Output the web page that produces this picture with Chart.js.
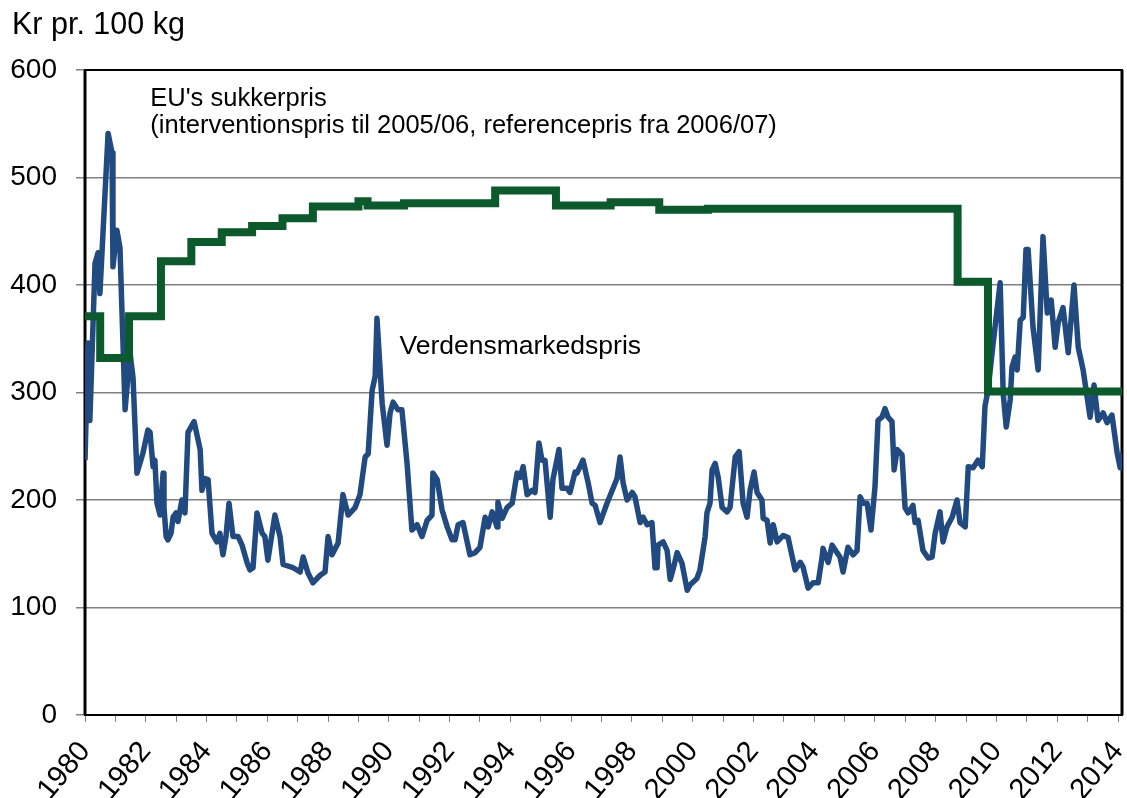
<!DOCTYPE html>
<html>
<head>
<meta charset="utf-8">
<title>Sukkerpris</title>
<script src="https://cdn.jsdelivr.net/npm/chart.js@4.4.1/dist/chart.umd.min.js"></script>
<style>
    html, body { margin: 0; padding: 0; background: #fff; }
    #sugar-chart { display: block; }
</style>
</head>
<body>
<canvas id="sugar-chart" width="1127" height="798"></canvas>
<script>
// ====== DATA ======
const euYears = [1980.00, 1980.50, 1981.45, 1982.50, 1983.50, 1984.50, 1985.50, 1986.50, 1987.50, 1989.00,
    1989.30, 1990.50, 1993.50, 1995.50, 1997.30, 1998.90, 2000.50, 2008.72, 2009.72, 2014.13];
const euPrices = [371, 332, 371, 422, 440, 449, 455, 462, 473, 478,
    474, 476, 488, 474, 477, 470, 471, 403, 301, 301];

const worldYears = [
    1980.00, 1980.10, 1980.16, 1980.33, 1980.43, 1980.49, 1980.76, 1980.89, 1980.92, 1981.05,
    1981.15, 1981.32, 1981.48, 1981.58, 1981.71, 1981.91, 1982.07, 1982.14, 1982.24, 1982.30,
    1982.37, 1982.47, 1982.57, 1982.60, 1982.67, 1982.73, 1982.83, 1982.90, 1983.00, 1983.06,
    1983.19, 1983.29, 1983.39, 1983.59, 1983.79, 1983.85, 1983.95, 1984.05, 1984.18, 1984.34,
    1984.44, 1984.54, 1984.64, 1984.74, 1984.87, 1985.04, 1985.17, 1985.33, 1985.43, 1985.53,
    1985.66, 1985.83, 1985.92, 1986.02, 1986.25, 1986.42, 1986.52, 1986.85, 1987.08, 1987.18,
    1987.34, 1987.50, 1987.74, 1987.90, 1988.00, 1988.13, 1988.33, 1988.49, 1988.66, 1988.89,
    1989.05, 1989.22, 1989.32, 1989.45, 1989.55, 1989.61, 1989.78, 1989.94, 1990.04, 1990.14,
    1990.30, 1990.43, 1990.60, 1990.76, 1990.93, 1991.09, 1991.26, 1991.42, 1991.45, 1991.59,
    1991.75, 1991.92, 1992.08, 1992.18, 1992.28, 1992.44, 1992.67, 1992.84, 1993.00, 1993.17,
    1993.27, 1993.40, 1993.56, 1993.59, 1993.73, 1993.89, 1994.06, 1994.22, 1994.32, 1994.42,
    1994.55, 1994.71, 1994.81, 1994.94, 1995.04, 1995.14, 1995.31, 1995.40, 1995.60, 1995.70,
    1995.87, 1995.96, 1996.13, 1996.19, 1996.39, 1996.56, 1996.69, 1996.79, 1996.95, 1997.18,
    1997.38, 1997.51, 1997.61, 1997.71, 1997.84, 1998.01, 1998.10, 1998.27, 1998.37, 1998.50,
    1998.66, 1998.76, 1998.83, 1998.86, 1999.03, 1999.16, 1999.26, 1999.35, 1999.49, 1999.65,
    1999.82, 1999.91, 2000.14, 2000.24, 2000.41, 2000.47, 2000.57, 2000.64, 2000.74, 2000.84,
    2000.97, 2001.13, 2001.23, 2001.40, 2001.53, 2001.66, 2001.79, 2001.89, 2002.02, 2002.12,
    2002.28, 2002.32, 2002.45, 2002.55, 2002.65, 2002.78, 2002.98, 2003.14, 2003.37, 2003.54,
    2003.63, 2003.80, 2003.96, 2004.13, 2004.26, 2004.29, 2004.46, 2004.59, 2004.75, 2004.85,
    2004.95, 2005.11, 2005.28, 2005.41, 2005.51, 2005.61, 2005.74, 2005.87, 2006.00, 2006.10,
    2006.23, 2006.33, 2006.43, 2006.56, 2006.63, 2006.73, 2006.89, 2006.99, 2007.09, 2007.25,
    2007.32, 2007.42, 2007.58, 2007.75, 2007.88, 2007.98, 2008.14, 2008.24, 2008.37, 2008.54,
    2008.70, 2008.80, 2008.97, 2009.07, 2009.23, 2009.39, 2009.53, 2009.62, 2009.72, 2009.89,
    2010.12, 2010.22, 2010.32, 2010.45, 2010.51, 2010.61, 2010.68, 2010.78, 2010.88, 2010.97,
    2011.04, 2011.20, 2011.37, 2011.53, 2011.67, 2011.80, 2011.93, 2012.03, 2012.19, 2012.36,
    2012.55, 2012.69, 2012.85, 2013.08, 2013.21, 2013.34, 2013.51, 2013.64, 2013.80, 2013.97,
    2014.07, 2014.13
];
const worldPrices = [
    237, 346, 274, 420, 430, 392, 541, 523, 417, 451,
    435, 284, 337, 314, 225, 244, 265, 263, 231, 237,
    197, 186, 225, 193, 166, 163, 169, 184, 188, 180,
    200, 188, 263, 273, 247, 209, 220, 219, 169, 161,
    169, 149, 166, 197, 166, 166, 158, 142, 135, 137,
    188, 169, 166, 144, 186, 166, 140, 137, 133, 147,
    132, 123, 130, 133, 166, 149, 160, 205, 186, 193,
    205, 240, 243, 302, 315, 369, 290, 251, 281, 291,
    284, 284, 234, 172, 177, 166, 181, 186, 225, 219,
    191, 175, 163, 163, 177, 179, 149, 151, 156, 184,
    175, 189, 175, 198, 183, 193, 197, 225, 221, 231,
    205, 209, 207, 253, 237, 237, 184, 219, 247, 211,
    211, 207, 226, 225, 237, 216, 197, 195, 179, 197,
    211, 220, 240, 216, 200, 207, 203, 179, 184, 177,
    179, 137, 137, 158, 161, 153, 126, 135, 151, 141,
    116, 121, 127, 135, 166, 188, 197, 228, 234, 221,
    193, 189, 193, 240, 245, 197, 184, 209, 226, 207,
    200, 183, 181, 160, 177, 161, 167, 165, 135, 142,
    138, 118, 123, 123, 147, 155, 142, 158, 151, 147,
    133, 156, 149, 153, 203, 197, 197, 172, 212, 274,
    277, 285, 277, 273, 228, 247, 242, 193, 188, 195,
    179, 181, 153, 146, 147, 169, 189, 161, 175, 184,
    200, 179, 175, 231, 230, 237, 231, 287, 302, 346,
    402, 299, 268, 293, 324, 333, 321, 367, 370, 433,
    433, 361, 321, 445, 374, 386, 342, 365, 379, 337,
    400, 342, 321, 277, 307, 274, 281, 272, 279, 244,
    230, 244
];

const yearStart = 1980;
const yearEnd = 2014.13;
const yTicks = [0, 100, 200, 300, 400, 500, 600];

const unitLabel = 'Kr pr. 100 kg';
const euLabel = ["EU's sukkerpris", '(interventionspris til 2005/06, referencepris fra 2006/07)'];
const worldLabel = 'Verdensmarkedspris';

const FONT = '"Liberation Sans", Arial, sans-serif';

// ====== PLUGIN: frame + texts ======
const framePlugin = {
    id: 'frame',
    beforeDatasetsDraw(chart) {
        const { ctx, chartArea: a } = chart;
        ctx.save();
        ctx.strokeStyle = '#000';
        ctx.lineWidth = 2;
        ctx.strokeRect(a.left, a.top, a.right - a.left, a.bottom - a.top);
        ctx.lineWidth = 3;
        ctx.beginPath();
        ctx.moveTo(a.left, a.top);
        ctx.lineTo(a.left, a.bottom);
        ctx.moveTo(a.right, a.top);
        ctx.lineTo(a.right, a.bottom);
        ctx.stroke();
        ctx.restore();
    },
    afterDraw(chart) {
        const { ctx } = chart;
        const x = chart.scales.x;
        const y = chart.scales.y;
        ctx.save();
        ctx.fillStyle = '#000';
        ctx.textBaseline = 'middle';
        ctx.textAlign = 'left';

        ctx.font = '30.5px ' + FONT;
        ctx.fillText(unitLabel, 12, 26);

        ctx.font = '25.5px ' + FONT;
        ctx.fillText(euLabel[0], x.getPixelForValue(1982.15), y.getPixelForValue(573));
        ctx.fillText(euLabel[1], x.getPixelForValue(1982.15), y.getPixelForValue(548));
        ctx.font = '26.5px ' + FONT;
        ctx.fillText(worldLabel, x.getPixelForValue(1990.35), y.getPixelForValue(343));
        ctx.restore();
    }
};

// ====== CHART ======
const ctx = document.getElementById('sugar-chart');
new Chart(ctx, {
    type: 'line',
    data: {
        datasets: [
            {
                label: 'EU',
                data: euYears.map((yr, i) => ({ x: yr, y: euPrices[i] })),
                borderColor: '#0b5a2c',
                borderWidth: 8,
                stepped: true,
                pointRadius: 0,
                fill: false
            },
            {
                label: 'Verden',
                data: worldYears.map((yr, i) => ({ x: yr, y: worldPrices[i] })),
                borderColor: '#214a80',
                borderWidth: 5.5,
                borderJoinStyle: 'round',
                tension: 0,
                pointRadius: 0,
                fill: false
            }
        ]
    },
    options: {
        responsive: false,
        animation: false,
        devicePixelRatio: 1,
        layout: { padding: { top: 70, right: 5, left: 0, bottom: 0 } },
        plugins: {
            legend: { display: false },
            tooltip: { enabled: false }
        },
        scales: {
            x: {
                type: 'linear',
                min: yearStart,
                max: yearEnd,
                afterFit: scale => {
                    scale.height = 83;
                    scale.paddingLeft = 0;
                    scale.paddingRight = 0;
                },
                border: { display: false },
                grid: {
                    drawOnChartArea: false,
                    drawTicks: true,
                    tickLength: 7,
                    color: '#808080'
                },
                ticks: {
                    stepSize: 1,
                    includeBounds: false,
                    autoSkip: false,
                    maxRotation: 50,
                    minRotation: 50,
                    padding: 13,
                    color: '#000',
                    font: { family: FONT, size: 29 },
                    callback: value => (value % 2 === 0 ? String(value) : '')
                }
            },
            y: {
                min: 0,
                max: 600,
                afterFit: scale => { scale.width = 85; },
                afterBuildTicks: scale => { scale.ticks = yTicks.map(v => ({ value: v })); },
                border: { display: false },
                grid: {
                    color: '#808080',
                    lineWidth: 1.5,
                    drawTicks: true,
                    tickLength: 9
                },
                ticks: {
                    padding: 19,
                    color: '#000',
                    font: { family: FONT, size: 28 }
                }
            }
        }
    },
    plugins: [framePlugin]
});
</script>
</body>
</html>
